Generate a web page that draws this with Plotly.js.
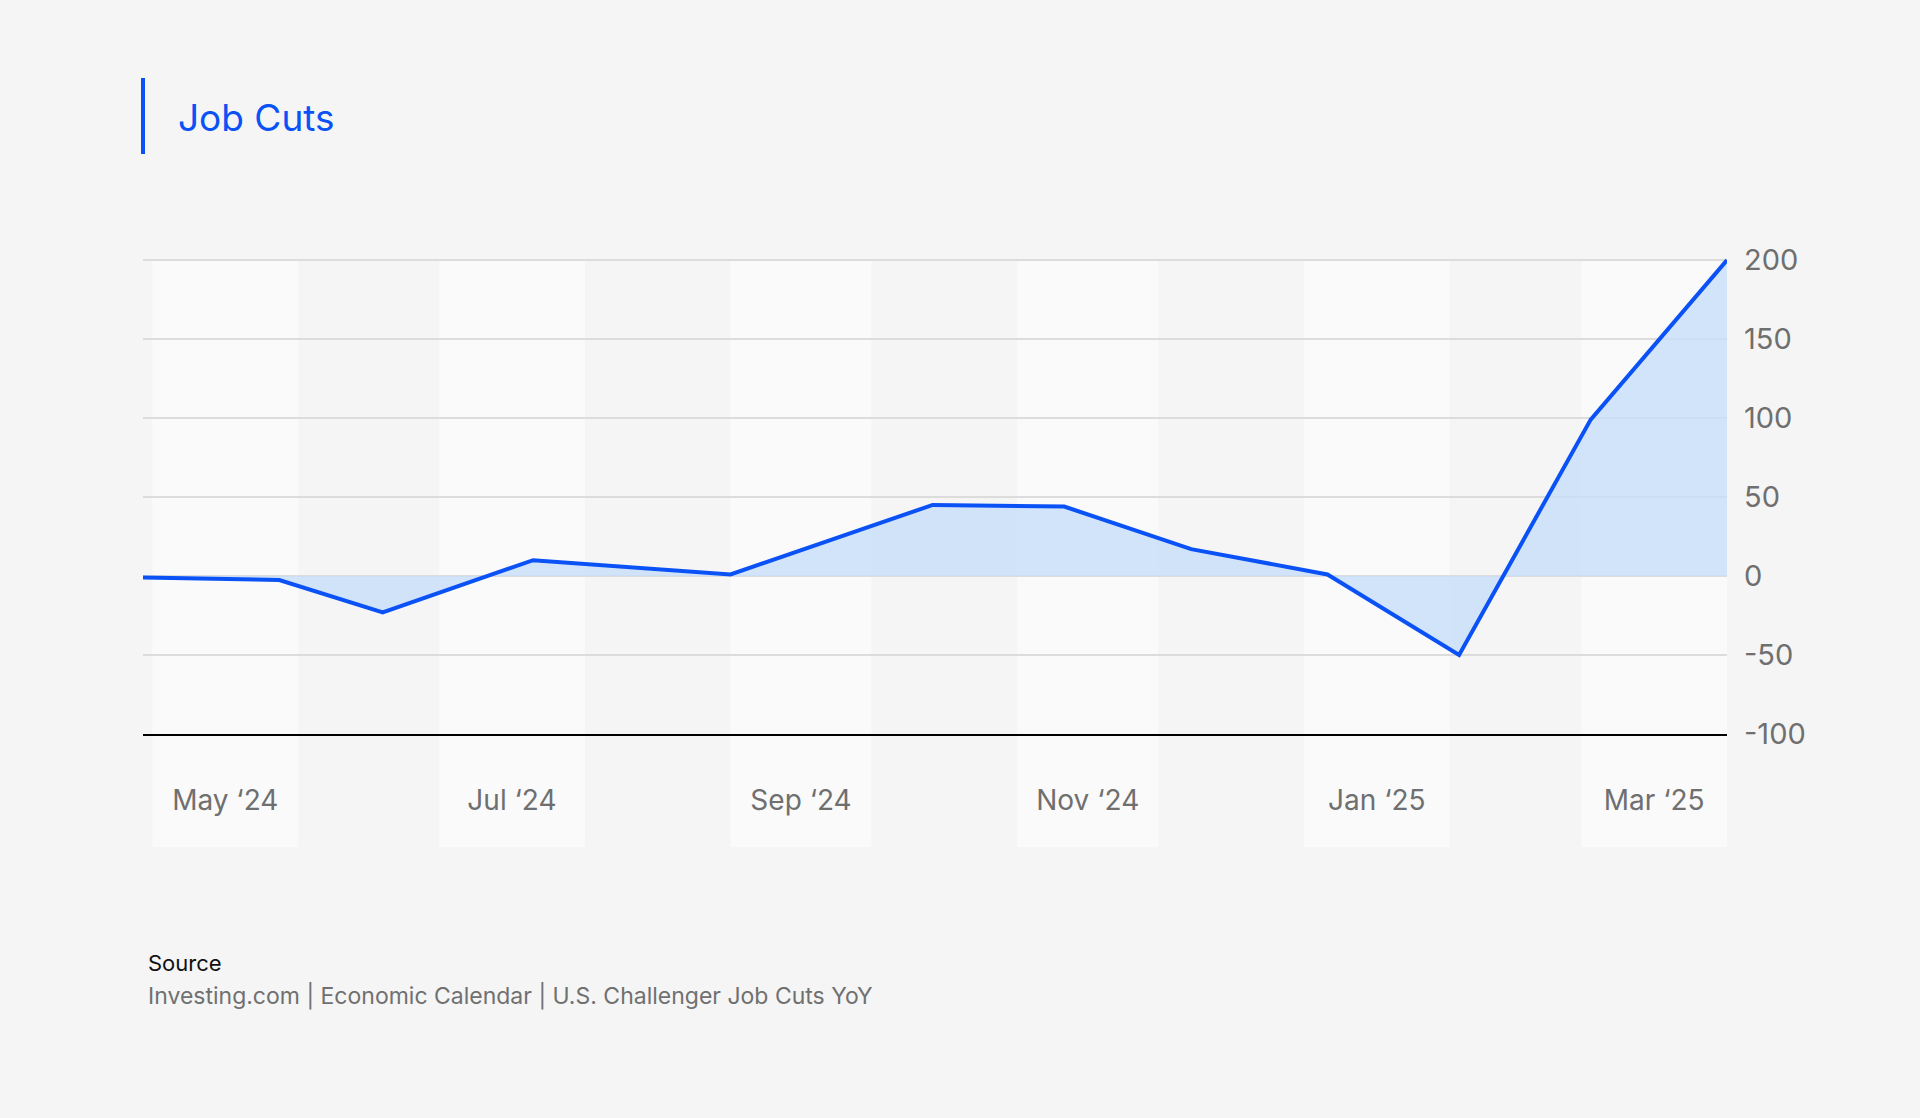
<!DOCTYPE html>
<html>
<head>
<meta charset="utf-8">
<script src="https://cdn.plot.ly/plotly-3.0.1.min.js"></script>
<style>
  html, body { margin: 0; padding: 0; background: #f5f5f5; }
  #chart { width: 1920px; height: 1118px; }
</style>
</head>
<body>
<div id="chart"></div>
<script>
// ---- data ----
var dates = ['2024-04-29', '2024-05-28', '2024-06-19', '2024-07-21', '2024-09-01', '2024-10-14',
             '2024-11-11', '2024-12-08', '2025-01-06', '2025-02-03', '2025-03-03', '2025-04-01'];
var values = [-1, -2.5, -23, 10, 1, 45, 44, 17, 1, -50, 99, 200];

var tickMonths = ['2024-05', '2024-07', '2024-09', '2024-11', '2025-01', '2025-03'];
var tickLabels = ['May \u201824', 'Jul \u201824', 'Sep \u201824', 'Nov \u201824', 'Jan \u201825', 'Mar \u201825'];
var yTicks = [-100, -50, 0, 50, 100, 150, 200];

var titleText = 'Job Cuts';
var sourceLabel = 'Source';
var sourceText = 'Investing.com | Economic Calendar | U.S. Challenger Job Cuts YoY';

// ---- helpers ----
function monthStart(m) { return m + '-01'; }
function nextMonthStart(m) {
  var y = parseInt(m.slice(0, 4), 10), mo = parseInt(m.slice(5, 7), 10);
  mo += 1; if (mo > 12) { mo = 1; y += 1; }
  return y + '-' + (mo < 10 ? '0' + mo : mo) + '-01';
}
function midMonth(m) {
  var a = new Date(monthStart(m) + 'T00:00:00Z').getTime();
  var b = new Date(nextMonthStart(m) + 'T00:00:00Z').getTime();
  var d = new Date((a + b) / 2);
  return d.toISOString().slice(0, 19).replace('T', ' ');
}

var W = 1920, H = 1118;
var M = { l: 143, r: 1920 - 1727, t: 258, b: 1118 - 734 };
var PW = W - M.l - M.r, PH = H - M.t - M.b;
function px(x) { return (x - M.l) / PW; }
function py(y) { return (H - M.b - y) / PH; }

var blue = '#0a52f6';

var shapes = tickMonths.map(function (m) {
  return {
    type: 'rect', layer: 'below', xref: 'x', yref: 'paper',
    x0: monthStart(m), x1: nextMonthStart(m),
    y0: py(847), y1: py(260),
    fillcolor: '#fafafa', line: { width: 0 }
  };
});
// title accent bar
shapes.push({
  type: 'rect', xref: 'paper', yref: 'paper',
  x0: px(141), x1: px(145), y0: py(154), y1: py(78),
  fillcolor: blue, line: { width: 0 }
});

var trace = {
  type: 'scatter', mode: 'lines',
  x: dates, y: values,
  line: { color: blue, width: 4 },
  fill: 'tozeroy', fillcolor: 'rgba(200,222,250,0.8)',
  hoverinfo: 'skip', showlegend: false
};

var layout = {
  width: W, height: H,
  margin: M,
  paper_bgcolor: '#f5f5f5',
  plot_bgcolor: '#f5f5f5',
  font: { family: 'Inter, "Noto Sans", sans-serif', color: '#6f6f6f' },
  showlegend: false,
  xaxis: {
    type: 'date',
    range: [dates[0], dates[dates.length - 1]],
    tickvals: tickMonths.map(midMonth),
    ticktext: tickLabels,
    tickfont: { size: 28, color: '#6f6f6f' },
    ticks: '', showgrid: false, zeroline: false,
    showline: true, linecolor: '#000', linewidth: 2,
    ticklabelstandoff: 40,
    fixedrange: true
  },
  yaxis: {
    side: 'right',
    range: [yTicks[0], yTicks[yTicks.length - 1] + 1.3],
    tickvals: yTicks,
    ticktext: yTicks.map(String),
    tickfont: { size: 29, color: '#6f6f6f' },
    ticks: '', showgrid: true, gridcolor: '#dcdcdc', gridwidth: 1.5,
    zeroline: false, showline: false,
    ticklabelstandoff: 16,
    fixedrange: true
  },
  shapes: shapes,
  annotations: [
    { text: titleText, xref: 'paper', yref: 'paper', x: px(176), y: py(118),
      xanchor: 'left', yanchor: 'middle', showarrow: false,
      font: { size: 37, color: blue, family: 'Inter, sans-serif' } },
    { text: sourceLabel, xref: 'paper', yref: 'paper', x: px(146), y: py(963),
      xanchor: 'left', yanchor: 'middle', showarrow: false,
      font: { size: 22, color: '#111111', family: 'Inter, sans-serif' } },
    { text: sourceText, xref: 'paper', yref: 'paper', x: px(146), y: py(996),
      xanchor: 'left', yanchor: 'middle', showarrow: false,
      font: { size: 23, color: '#707070', family: 'Inter, sans-serif' } }
  ]
};

Plotly.newPlot('chart', [trace], layout, { displayModeBar: false, responsive: false });
</script>
</body>
</html>
